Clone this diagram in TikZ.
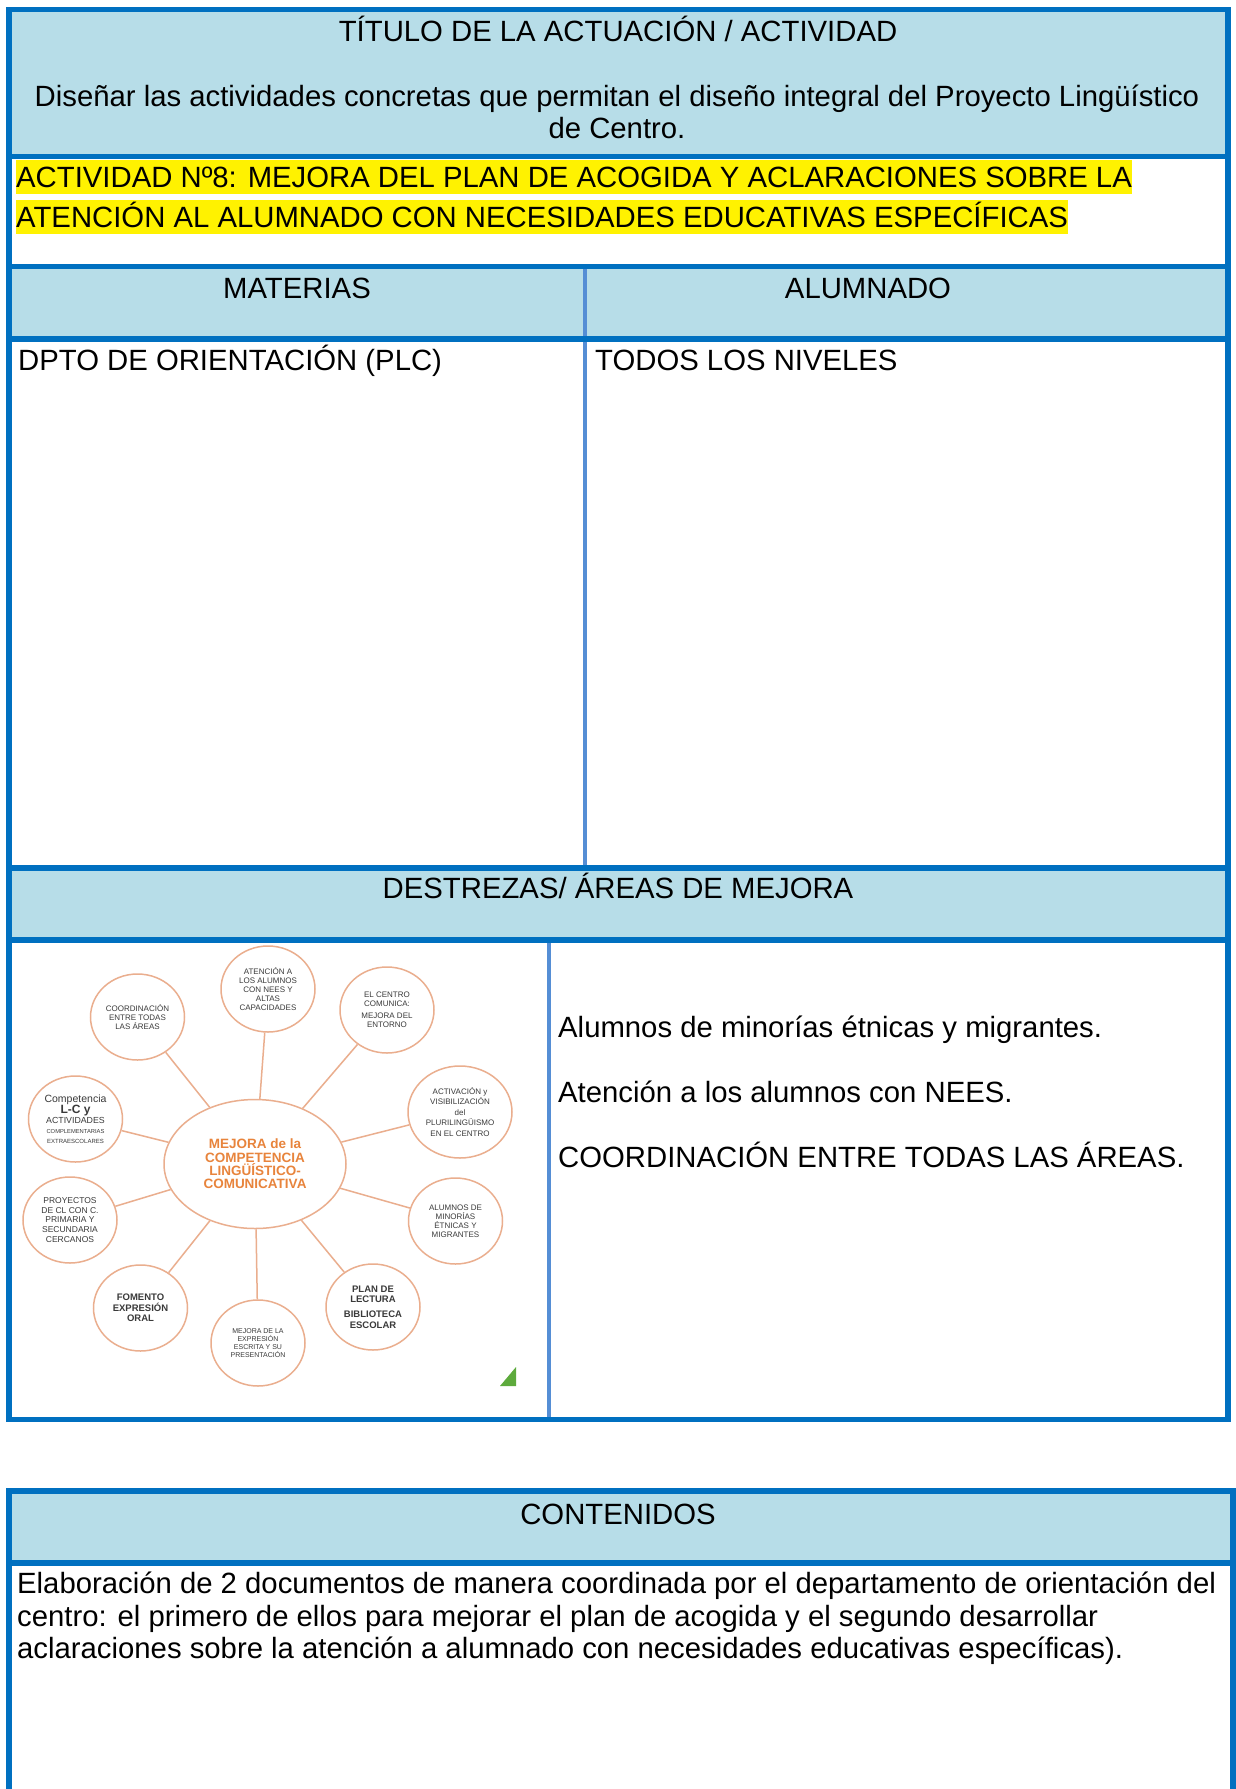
\documentclass[tikz,border=0pt]{standalone}
\usepackage{fontspec}
\setmainfont{Liberation Sans}
\usetikzlibrary{shapes.geometric}
\definecolor{bordblue}{HTML}{0070C0}
\definecolor{hdrfill}{HTML}{B7DDE8}
\definecolor{divblue}{HTML}{558ED5}
\definecolor{mapline}{HTML}{EAAE8E}
\definecolor{maporange}{HTML}{E8843C}
\definecolor{mapgray}{HTML}{3A3A3A}
\definecolor{leafgreen}{HTML}{5DAA3C}
\begin{document}
\begin{tikzpicture}[x=1pt,y=-1pt,
  body/.style={inner sep=0pt, font=\fontsize{29.3}{33.3}\selectfont},
  hl/.style={body, fill=yellow, text height=27pt, text depth=7pt},
  frame/.style={draw=bordblue, line width=5.5pt},
  div/.style={draw=divblue, line width=3.5pt},
  bubble/.style={ellipse, draw=mapline, line width=1.5pt, minimum width=94pt, minimum height=86pt, inner sep=0pt, align=center, text=mapgray, font=\fontsize{8}{9}\selectfont},
  hub/.style={ellipse, draw=mapline, line width=1.5pt, minimum width=182pt, minimum height=129pt, inner sep=0pt, align=center, text=maporange, font=\fontsize{13.5}{13.4}\selectfont\bfseries},
  spoke/.style={draw=mapline, line width=1.5pt}
]
\useasboundingbox (0,0) rectangle (1235,1789);
\fill[white] (0,0) rectangle (1235,1789);

% header fills
\fill[hdrfill] (9,9.5) rectangle (1228,156.5);
\fill[hdrfill] (9,266.5) rectangle (1228,339);
\fill[hdrfill] (9,868) rectangle (1228,940);
\fill[hdrfill] (9,1491) rectangle (1233,1563);

% inner dividers
\draw[div] (585,266.5) -- (585,868);
\draw[div] (549,940) -- (549,1419.5);

% top table frame and rules
\draw[frame] (9,9.5) rectangle (1228,1419.5);
\draw[frame] (9,156.5) -- (1228,156.5);
\draw[frame] (9,266.5) -- (1228,266.5);
\draw[frame] (9,339) -- (1228,339);
\draw[frame] (9,868) -- (1228,868);
\draw[frame] (9,940) -- (1228,940);

% second table frame
\draw[frame] (9,1789) -- (9,1491) -- (1233,1491) -- (1233,1789);
\draw[frame] (9,1563) -- (1233,1563);

% texts of the top table
\node[body, anchor=base] (ttl) at (618,41) {TÍTULO DE LA ACTUACIÓN / ACTIVIDAD};
\node[body, anchor=base] (dis1) at (617,106) {Diseñar las actividades concretas que permitan el diseño integral del Proyecto Lingüístico};
\node[body, anchor=base] (dis2) at (617,138) {de Centro.};
\node[hl, anchor=base west] (act1) at (16,187) {ACTIVIDAD Nº8: MEJORA DEL PLAN DE ACOGIDA Y ACLARACIONES SOBRE LA};
\node[hl, anchor=base west] (act2) at (16,227) {ATENCIÓN AL ALUMNADO CON NECESIDADES EDUCATIVAS ESPECÍFICAS};
\node[body, anchor=base] (mat) at (297,298) {MATERIAS};
\node[body, anchor=base] (alu) at (868,298) {ALUMNADO};
\node[body, anchor=base west] (dpto) at (18,370) {DPTO DE ORIENTACIÓN (PLC)};
\node[body, anchor=base west] (niv) at (595,370) {TODOS LOS NIVELES};
\node[body, anchor=base] (des) at (618,898) {DESTREZAS/ ÁREAS DE MEJORA};
\node[body, anchor=base west] (r1) at (558,1037) {Alumnos de minorías étnicas y migrantes.};
\node[body, anchor=base west] (r2) at (558,1102) {Atención a los alumnos con NEES.};
\node[body, anchor=base west] (r3) at (558,1167) {COORDINACIÓN ENTRE TODAS LAS ÁREAS.};

% second table texts
\node[body, anchor=base] (cont) at (618,1524) {CONTENIDOS};
\node[body, anchor=base west] (e1) at (17,1593) {Elaboración de 2 documentos de manera coordinada por el departamento de orientación del};
\node[body, anchor=base west] (e2) at (17,1626) {centro: el primero de ellos para mejorar el plan de acogida y el segundo desarrollar};
\node[body, anchor=base west] (e3) at (17,1658) {aclaraciones sobre la atención a alumnado con necesidades educativas específicas).};

% mind map
\node[hub] (hubn) at (255,1164) {MEJORA de la\\COMPETENCIA\\LINGÜÍSTICO-\\COMUNICATIVA};
\node[bubble] (c1) at (268,989) {ATENCIÓN A\\LOS ALUMNOS\\CON NEES Y\\ALTAS\\CAPACIDADES};
\node[bubble] (c2) at (137.5,1017) {COORDINACIÓN\\ENTRE TODAS\\LAS ÁREAS};
\node[bubble] (c3) at (387,1010) {EL CENTRO\\COMUNICA:\\[3pt]MEJORA DEL\\ENTORNO};
\node[bubble, font=\fontsize{8}{10}\selectfont] (c4) at (75.5,1119) {{\fontsize{10.5}{10}\selectfont Competencia}\\{\fontsize{12}{10}\selectfont\bfseries L-C y}\\{\fontsize{8.8}{10}\selectfont ACTIVIDADES}\\{\fontsize{5.8}{10}\selectfont COMPLEMENTARIAS}\\{\fontsize{6}{10}\selectfont EXTRAESCOLARES}};
\node[bubble, minimum width=104pt, minimum height=92pt, font=\fontsize{8}{10.5}\selectfont] (c5) at (460,1112) {ACTIVACIÓN y\\VISIBILIZACIÓN\\del\\PLURILINGÜISMO\\EN EL CENTRO};
\node[bubble, font=\fontsize{8.5}{9.8}\selectfont] (c6) at (70,1220) {PROYECTOS\\DE CL CON C.\\PRIMARIA Y\\SECUNDARIA\\CERCANOS};
\node[bubble] (c7) at (455.5,1221) {ALUMNOS DE\\MINORÍAS\\ÉTNICAS Y\\MIGRANTES};
\node[bubble, font=\fontsize{9.5}{10.5}\selectfont\bfseries] (c8) at (140.5,1308) {FOMENTO\\EXPRESIÓN\\ORAL};
\node[bubble, font=\fontsize{9.5}{10.3}\selectfont\bfseries] (c9) at (373,1307) {PLAN DE\\LECTURA\\[5pt]BIBLIOTECA\\ESCOLAR};
\node[bubble, font=\fontsize{7}{8}\selectfont] (c10) at (258,1343) {MEJORA DE LA\\EXPRESIÓN\\ESCRITA Y SU\\PRESENTACIÓN};

\foreach \c in {c1,c2,c3,c4,c5,c6,c7,c8,c9,c10}
  \draw[spoke] (hubn) -- (\c);

\fill[leafgreen] (500,1386) -- (516,1386) -- (516,1367) -- cycle;
\end{tikzpicture}
\end{document}
